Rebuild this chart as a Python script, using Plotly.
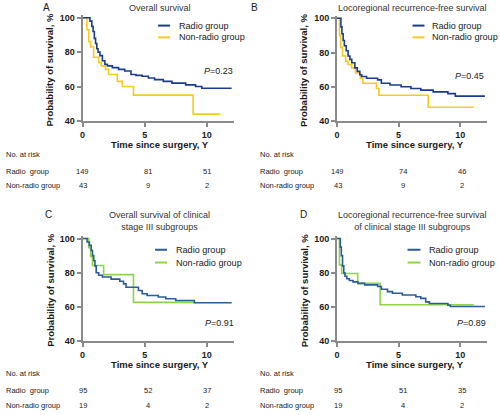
import plotly.graph_objects as go

W, H = 500, 415
FONT = "Liberation Sans, Arial, sans-serif"

# ---------------- data ----------------
# Panel A: overall survival
a_radio_t = [0, 0.6, 0.75, 0.85, 0.95, 1.05, 1.15, 1.25, 1.4, 1.6, 1.8, 2.0, 2.4, 2.9, 3.4, 3.9, 4.3, 4.8, 5.3, 5.8, 6.5, 7.2, 8.3, 9.1, 9.6, 12.0]
a_radio_s = [100, 98, 95, 92, 88, 85, 82, 80, 78, 75, 73, 72, 71, 70, 69, 67, 66.5, 66, 65, 64, 63, 62, 61, 60, 59, 59]
a_non_t = [0, 0.35, 0.5, 0.65, 0.9, 1.3, 1.5, 1.85, 2.1, 2.8, 3.2, 4.1, 8.9, 11.1]
a_non_s = [100, 93, 86, 83, 77, 74, 72, 70, 67, 63, 60, 55, 44, 44]

# Panel B: locoregional recurrence-free survival
b_radio_t = [0, 0.32, 0.4, 0.5, 0.6, 0.75, 0.9, 1.05, 1.2, 1.45, 1.65, 1.85, 2.0, 2.4, 3.3, 3.6, 4.3, 5.2, 6.0, 6.8, 7.8, 9.0, 9.6, 12.0]
b_radio_s = [100, 95, 91, 87, 84, 81, 78, 76, 74, 71, 69, 67, 66, 65, 64, 62, 61, 60, 59, 58, 57, 56, 54.5, 54.5]
b_non_t = [0, 0.2, 0.3, 0.45, 0.7, 0.9, 1.2, 1.5, 1.9, 2.1, 3.2, 3.4, 7.4, 11.1]
b_non_s = [100, 90, 83, 78, 75, 73, 71, 68, 65, 62, 59, 55, 48, 48]

# Panel C: overall survival, clinical stage III
c_radio_t = [0, 0.37, 0.55, 0.7, 0.8, 0.9, 1.0, 1.1, 1.3, 1.6, 2.3, 3.0, 3.3, 3.5, 4.5, 4.8, 5.2, 6.1, 6.7, 7.5, 9.0, 12.0]
c_radio_s = [100, 98, 96, 93, 90, 87, 84, 80, 78.5, 77.5, 76.3, 75, 73.5, 71.5, 69.6, 67.7, 66.7, 65.8, 64.8, 63.8, 62.5, 62.5]
c_non_t = [0, 0.5, 0.65, 0.8, 1.7, 4.1, 9.1]
c_non_s = [100, 94.7, 89.5, 84.2, 78.9, 62.7, 62.7]

# Panel D: locoregional recurrence-free survival, clinical stage III
d_radio_t = [0, 0.27, 0.35, 0.45, 0.55, 0.65, 0.8, 1.0, 1.3, 1.7, 2.25, 3.3, 3.6, 4.1, 4.5, 5.3, 6.4, 6.8, 7.2, 7.5, 9.0, 9.2, 12.0]
d_radio_s = [100, 95, 90, 84, 80, 78, 76.5, 75.5, 74.7, 73.8, 72.9, 72, 70.4, 69, 68, 67, 66, 65, 63, 62, 61, 60.3, 60.3]
d_non_t = [0, 0.2, 0.38, 1.68, 3.5, 11.1]
d_non_s = [100, 84.6, 79.6, 73.8, 61.3, 61.3]

# risk table
risk_times = [0, 5, 10]
a_risk_radio = [149, 81, 51]
a_risk_non = [43, 9, 2]
b_risk_radio = [149, 74, 46]
b_risk_non = [43, 9, 2]
c_risk_radio = [95, 52, 37]
c_risk_non = [19, 4, 2]
d_risk_radio = [95, 51, 35]
d_risk_non = [19, 4, 2]

x_ticks = [0, 5, 10]
y_ticks = [40, 60, 80, 100]
p_values = ["0.23", "0.45", "0.91", "0.89"]
panel_letters = ["A", "B", "C", "D"]
panel_titles = ["Overall survival", "Locoregional recurrence-free survival",
                "Overall survival of clinical<br>stage III subgroups",
                "Locoregional recurrence-free survival<br>of clinical stage III subgroups"]
legend_names = ["Radio group", "Non-radio group"]

# ---------------- styles ----------------
BLUE_AB = "#1B3C8E"
BLUE_CD = "#2A5C98"
YELLOW = "#F7CB1C"
GREEN = "#8FD448"
AXIS = "#8A8A8A"
TXT = "#1a1a1a"


def px(x):
    return x / W


def py(y):
    return 1 - y / H


# panel geometry (pixels): x0 pixel, px per year, y pixel of 40, px per %
panels = [
    dict(x0=80, xs=12.5, y40=121, ys=1.75, radio=(a_radio_t, a_radio_s), non=(a_non_t, a_non_s),
         c1=BLUE_AB, c2=YELLOW, risk=(a_risk_radio, a_risk_non)),
    dict(x0=336, xs=12.4, y40=121, ys=1.74, radio=(b_radio_t, b_radio_s), non=(b_non_t, b_non_s),
         c1=BLUE_AB, c2=YELLOW, risk=(b_risk_radio, b_risk_non)),
    dict(x0=80, xs=12.5, y40=345, ys=1.74, radio=(c_radio_t, c_radio_s), non=(c_non_t, c_non_s),
         c1=BLUE_CD, c2=GREEN, risk=(c_risk_radio, c_risk_non)),
    dict(x0=336, xs=12.4, y40=345, ys=1.74, radio=(d_radio_t, d_radio_s), non=(d_non_t, d_non_s),
         c1=BLUE_CD, c2=GREEN, risk=(d_risk_radio, d_risk_non)),
]
XMAX = 12.2
YMIN, YMAX = 40, 101.5

fig = go.Figure()
layout = dict(width=W, height=H, margin=dict(l=0, r=0, t=0, b=0),
              paper_bgcolor="white", plot_bgcolor="white", showlegend=False)
annotations = []
shapes = []

for i, p in enumerate(panels):
    n = "" if i == 0 else str(i + 1)
    xa, ya = "x" + n, "y" + n
    xd = [px(p["x0"]), px(p["x0"] + XMAX * p["xs"])]
    ytop = p["y40"] - (YMAX - YMIN) * p["ys"]
    yd = [py(p["y40"]), py(ytop)]
    common = dict(showgrid=False, zeroline=False, showline=True, linecolor=AXIS, linewidth=2,
                  ticks="outside", ticklen=4, tickwidth=1.5, tickcolor=AXIS,
                  tickfont=dict(family=FONT, size=9, color=TXT, weight="bold"))
    layout["xaxis" + n] = dict(domain=xd, range=[0, XMAX], tickvals=x_ticks, anchor=ya, **common)
    layout["yaxis" + n] = dict(domain=yd, range=[YMIN, YMAX], tickvals=y_ticks, anchor=xa, **common)

    t1, s1 = p["radio"]
    t2, s2 = p["non"]
    fig.add_trace(go.Scatter(x=t2, y=s2, mode="lines", line=dict(color=p["c2"], width=1.6, shape="hv"),
                             xaxis=xa, yaxis=ya, name=legend_names[1]))
    fig.add_trace(go.Scatter(x=t1, y=s1, mode="lines", line=dict(color=p["c1"], width=1.6, shape="hv"),
                             xaxis=xa, yaxis=ya, name=legend_names[0]))

    # axis titles
    annotations.append(dict(text="<b>Time since surgery, Y</b>", x=px(p["x0"] + 78), y=py(p["y40"] + 24),
                            xref="paper", yref="paper", showarrow=False, xanchor="center", yanchor="middle",
                            font=dict(family=FONT, size=9.5, color=TXT)))
    annotations.append(dict(text="<b>Probability of survival, %</b>", x=px(p["x0"] - 33),
                            y=py(p["y40"] - 52), xref="paper", yref="paper", showarrow=False,
                            textangle=-90, xanchor="center", yanchor="middle",
                            font=dict(family=FONT, size=9.5, color=TXT)))

annotations_meta = [
    dict(lx=44, ly=6, tx=158, ty=6, lg=(156, 168, 175, 24, 36), pr=233, pyy=70),
    dict(lx=253, ly=6, tx=412, ty=6, lg=(412, 424, 430, 24, 36), pr=486, pyy=75),
    dict(lx=46, ly=216, tx=157, ty=223, lg=(153, 165, 172, 252, 265), pr=234, pyy=326),
    dict(lx=302, ly=216, tx=412, ty=223, lg=(407, 420, 427, 252, 265), pr=488, pyy=326),
]

for i, m in enumerate(annotations_meta):
    p = panels[i]
    annotations.append(dict(text=panel_letters[i], x=px(m["lx"]), y=py(m["ly"]), xref="paper", yref="paper",
                            showarrow=False, xanchor="center", yanchor="middle",
                            font=dict(family=FONT, size=10, color=TXT)))
    annotations.append(dict(text=panel_titles[i], x=px(m["tx"]), y=py(m["ty"]), xref="paper", yref="paper",
                            showarrow=False, xanchor="center", yanchor="middle",
                            font=dict(family=FONT, size=9, color="#333333")))
    lx0, lx1, ltx, ly1, ly2 = m["lg"]
    for yy, col, name in [(ly1, p["c1"], legend_names[0]), (ly2, p["c2"], legend_names[1])]:
        shapes.append(dict(type="line", xref="paper", yref="paper", x0=px(lx0), x1=px(lx1),
                           y0=py(yy), y1=py(yy), line=dict(color=col, width=2)))
        annotations.append(dict(text=name, x=px(ltx), y=py(yy), xref="paper", yref="paper",
                                showarrow=False, xanchor="left", yanchor="middle",
                                font=dict(family=FONT, size=9.1, color=TXT)))
    annotations.append(dict(text="<i>P</i>=" + p_values[i], x=px(m["pr"]), y=py(m["pyy"]), xref="paper",
                            yref="paper", showarrow=False, xanchor="right", yanchor="middle",
                            font=dict(family=FONT, size=9, color=TXT)))

    # risk table
    n = "" if i == 0 else str(i + 1)
    base = 155 if i < 2 else 378
    rows_y = [base, base + 17, base + 32]
    left = 1 if i % 2 == 0 else 257
    labels = ["No. at risk", "Radio\u00a0 group", "Non-radio group"]
    for lab, yy in zip(labels, rows_y):
        annotations.append(dict(text=lab, x=px(left), y=py(yy), xref="paper", yref="paper",
                                showarrow=False, xanchor="left", yanchor="middle",
                                font=dict(family=FONT, size=7.5, color=TXT)))
    rr, rn = p["risk"]
    shifts = [1, 4, 2] if i % 2 == 1 else [0, 3, 0]
    for t, v1, v2, sh in zip(risk_times, rr, rn, shifts):
        for v, yy in [(v1, rows_y[1]), (v2, rows_y[2])]:
            annotations.append(dict(text=str(v), x=t, xref="x" + n, y=py(yy), yref="paper", xshift=sh,
                                    showarrow=False, xanchor="center", yanchor="middle",
                                    font=dict(family=FONT, size=7.5, color=TXT)))

layout["annotations"] = annotations
layout["shapes"] = shapes
fig.update_layout(**layout)
fig.write_html("out.html", config={"displayModeBar": False},
               post_script="document.body.style.margin='0';document.body.style.overflow='hidden';")
